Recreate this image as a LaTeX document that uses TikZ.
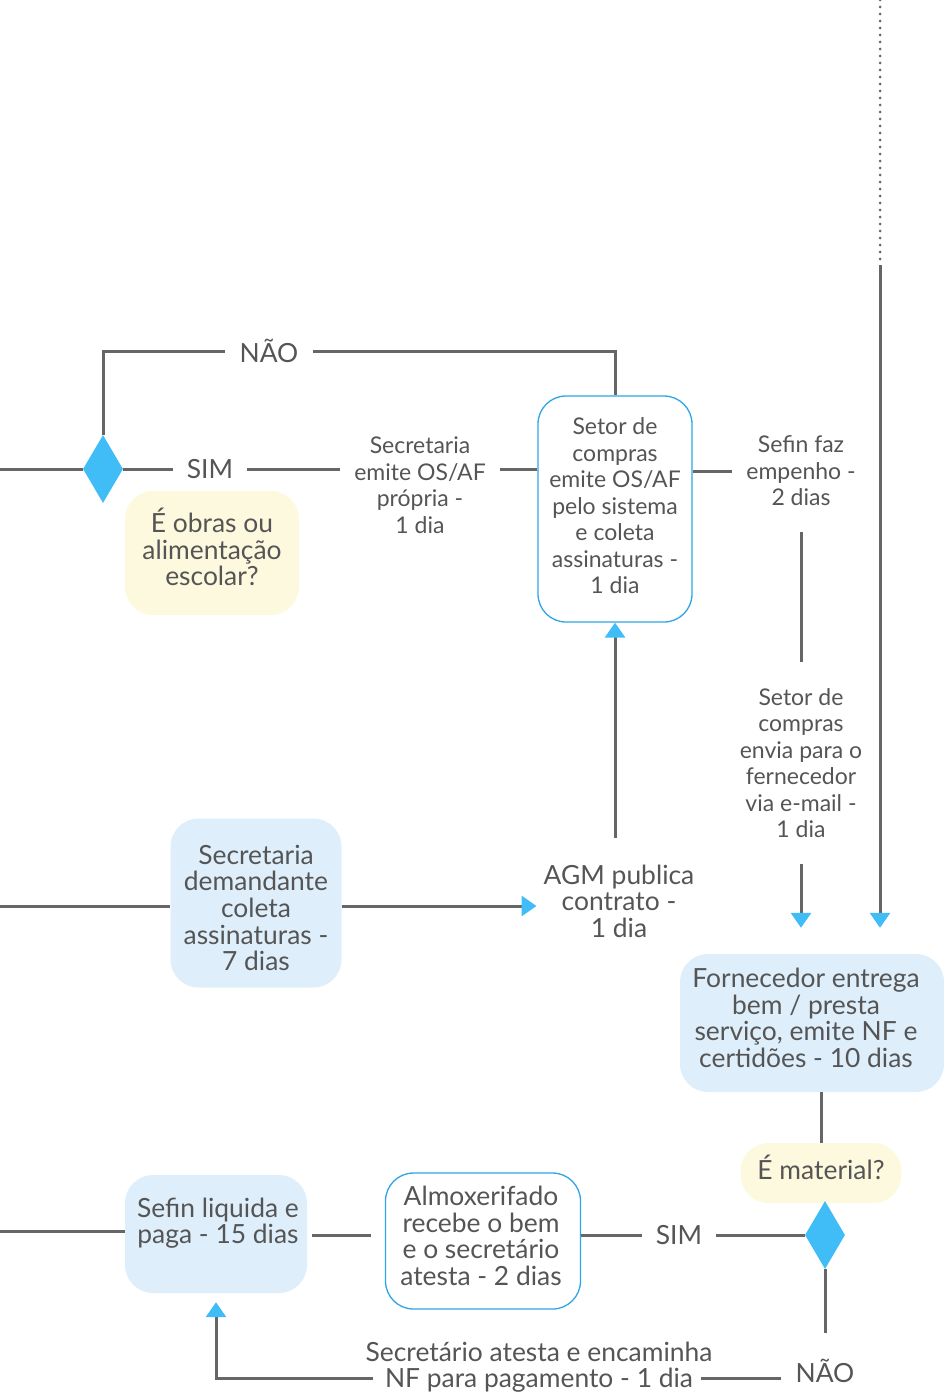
\documentclass[tikz,border=0pt]{standalone}
\usepackage{fontspec}
\setmainfont{Lato}
\usetikzlibrary{arrows.meta,shapes.geometric}

\definecolor{linegray}{HTML}{666666}
\definecolor{textgray}{HTML}{555555}
\definecolor{tipblue}{HTML}{40BCF7}
\definecolor{paleblue}{HTML}{DEEFFB}
\definecolor{paleyellow}{HTML}{FDF9DE}
\definecolor{rimblue}{HTML}{2FA5E6}

\newcommand{\bigtxt}{\fontsize{26.4}{26.6}\selectfont}
\newcommand{\smalltxt}{\fontsize{23}{26.5}\selectfont}

\begin{document}
\begin{tikzpicture}[x=1pt, y=-1pt,
    every node/.style={text=textgray, align=center},
    fillbox/.style={rectangle, rounded corners=28pt, fill=paleblue, inner sep=0pt},
    askbox/.style={rectangle, rounded corners=28pt, fill=paleyellow, inner sep=0pt},
    rimbox/.style={rectangle, rounded corners=28pt, draw=rimblue, line width=1.3pt, fill=white, inner sep=0pt},
    choice/.style={diamond, fill=tipblue, minimum width=40pt, minimum height=68pt, inner sep=0pt},
    tag/.style={inner xsep=14pt, inner ysep=26pt},
    wire/.style={draw=linegray, line width=3pt},
    flow/.style={-{Triangle[color=tipblue, length=15pt, width=20pt]}}]

    \useasboundingbox (0,0) rectangle (944,1394);

    % primeira decisao
    \node[choice] (obra) at (103,469) {};
    \node[askbox, minimum width=174pt, minimum height=124pt] (obraq) at (212,553) {};
    \node[font=\bigtxt] (obraqtxt) at (212,547) {É obras ou\\alimentação\\escolar?};
    \node[tag, font=\bigtxt] (nao1) at (269,351) {NÃO};
    \node[tag, font=\bigtxt] (sim1) at (210,469) {SIM};
    \node[tag, font=\smalltxt] (ospro) at (420,485) {Secretaria\\emite OS/AF\\própria -\\1 dia};
    \node[rimbox, minimum width=154pt, minimum height=226pt] (setor) at (615,509) {};
    \node[font=\smalltxt] (setortxt) at (615,506) {Setor de\\compras\\emite OS/AF\\pelo sistema\\e coleta\\assinaturas -\\1 dia};
    \node[tag, font=\smalltxt] (empenho) at (801,471) {Sefin faz\\empenho -\\2 dias};
    \node[tag, font=\smalltxt] (email) at (801,763) {Setor de\\compras\\envia para o\\fernecedor\\via e-mail -\\1 dia};

    % contrato
    \node[tag, font=\bigtxt] (agm) at (619,901) {AGM publica\\contrato -\\1 dia};
    \node[fillbox, minimum width=171pt, minimum height=169pt] (demanda) at (256,903) {};
    \node[font=\bigtxt] (demandatxt) at (256,908) {Secretaria\\demandante\\coleta\\assinaturas -\\7 dias};
    \node[fillbox, minimum width=264pt, minimum height=138pt] (fornec) at (812,1023) {};
    \node[font=\bigtxt] (fornectxt) at (806,1018) {Fornecedor entrega\\bem / presta\\serviço, emite NF e\\certidões - 10 dias};

    % segunda decisao
    \node[askbox, minimum width=161pt, minimum height=60pt] (mat) at (821,1173) {};
    \node[font=\bigtxt] (mattxt) at (821,1167) {É material?};
    \node[choice] (matq) at (825,1235) {};
    \node[tag, font=\bigtxt] (sim2) at (679,1235) {SIM};
    \node[rimbox, minimum width=195pt, minimum height=136pt] (almox) at (483,1241) {};
    \node[font=\bigtxt] (almoxtxt) at (481,1236) {Almoxerifado\\recebe o bem\\e o secretário\\atesta - 2 dias};
    \node[fillbox, minimum width=182pt, minimum height=118pt] (sefin) at (216,1234) {};
    \node[font=\bigtxt] (sefintxt) at (218,1223) {Sefin liquida e\\paga - 15 dias};
    \node[tag, font=\bigtxt] (nao2) at (825,1371) {NÃO};
    \node[tag, font=\bigtxt] (atesta) at (539,1367) {Secretário atesta e encaminha\\NF para pagamento - 1 dia};

    % pontas soltas
    \coordinate (in1) at (0,469);
    \coordinate (in2) at (0,906);
    \coordinate (in3) at (0,1231);
    \coordinate (topo) at (880,0);
    \coordinate (corte) at (880,265);

    % ligacoes
    \draw[wire] (in1) -- (obra.west);
    \draw[wire] (obra.north) |- (nao1.west);
    \draw[wire] (nao1.east) -| (setor.north);
    \draw[wire] (obra.east) -- (sim1.west);
    \draw[wire] (sim1.east) -- (ospro.west |- sim1);
    \draw[wire] (ospro.east |- sim1) -- (setor.west |- sim1);
    \draw[wire] (setor.east |- empenho) -- (empenho.west);
    \draw[wire] (empenho.south) -- (email.north);
    \draw[wire, flow, shorten >=26pt] (email.south) -- (email.south |- fornec.north);
    \draw[wire, dash pattern=on 0pt off 7pt, line cap=round] (topo) -- (corte);
    \draw[wire, flow, shorten >=26pt] (corte) -- (corte |- fornec.north);
    \draw[wire, flow] (agm.north -| setor.south) -- (setor.south);
    \draw[wire] (in2) -- (demanda.west |- in2);
    \draw[wire, flow, shorten >=-7pt] (demanda.east |- in2) -- (agm.west |- in2);
    \draw[wire] (fornec.south -| mat.north) -- (mat.north);
    \draw[wire] (matq.west) -- (sim2.east);
    \draw[wire] (sim2.west) -- (almox.east |- sim2);
    \draw[wire, shorten <=14pt, shorten >=5pt] (almox.west |- sim2) -- (sefin.east |- sim2);
    \draw[wire] (in3) -- (sefin.west |- in3);
    \draw[wire] (matq.south) -- (nao2.north);
    \draw[wire, shorten >=-26pt] ([yshift=-7pt]nao2.west) -- ([yshift=-7pt]atesta.east |- nao2);
    \draw[wire, flow, shorten <=-22pt, shorten >=9pt] ([yshift=-7pt]atesta.west |- nao2) -| (sefin.south);
\end{tikzpicture}
\end{document}
